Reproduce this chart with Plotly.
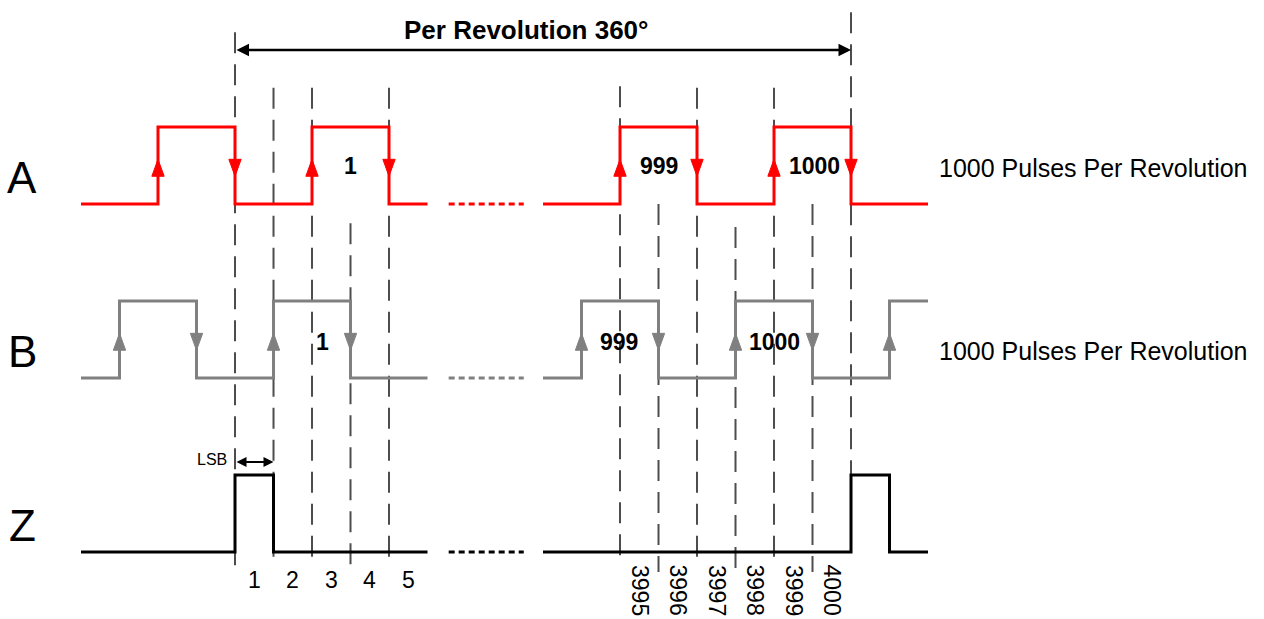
import plotly.graph_objects as go

# ---------------- data (time in quarter-cycle units, levels 0/1) ----------------
RIGHT_OFFSET = 3984          # right-hand section: count value -> display position
BREAK_START, BREAK_END = 5.55, 7.5

A_left_t = [-4, -2, 0, 2, 4, 5]
A_left_v = [0, 1, 0, 1, 0, 0]
A_right_t = [3992, 3994, 3996, 3998, 4000, 4002]
A_right_v = [0, 1, 0, 1, 0, 0]

B_left_t = [-4, -3, -1, 1, 3, 5]
B_left_v = [0, 1, 0, 1, 0, 0]
B_right_t = [3992, 3993, 3995, 3997, 3999, 4001, 4002]
B_right_v = [0, 1, 0, 1, 0, 1, 1]

Z_left_t = [-4, 0, 1, 5]
Z_left_v = [0, 1, 0, 0]
Z_right_t = [3992, 4000, 4001, 4002]
Z_right_v = [0, 1, 0, 0]

row_names = ["A", "B", "Z"]
row_base = [4.52, 2.26, 0.0]      # baseline of each row on the y scale
row_colors = ["#ff0000", "#808080", "#000000"]

A_pulse_labels = ["1", "999", "1000"]
A_pulse_pos = [3, 3995 - RIGHT_OFFSET, 3999.05 - RIGHT_OFFSET]
B_pulse_labels = ["1", "999", "1000"]
B_pulse_pos = [2.26, 3993.97 - RIGHT_OFFSET, 3998 - RIGHT_OFFSET]

count_left_labels = ["1", "2", "3", "4", "5"]
count_left_pos = [0.5, 1.5, 2.5, 3.5, 4.5]
count_right_labels = ["3995", "3996", "3997", "3998", "3999", "4000"]
count_right_pos = [3994.5, 3995.5, 3996.5, 3997.5, 3998.5, 3999.5]

# dashed guide lines: (display t, top y, bottom y)
guide_t = [0, 1, 2, 3, 4, 3994, 3995, 3996, 3997, 3998, 3999, 4000]
guide_top = [6.75, 6.03, 6.03, 4.27, 6.03, 6.05, 4.52, 6.03, 4.22, 6.03, 4.52, 7.01]
guide_bot = [-0.23, -0.2, -0.2, -0.21, -0.2, -0.17, -0.26, -0.2, -0.26, -0.2, -0.26, 1.0]

pulses_text = "1000 Pulses Per Revolution"
title_text = "Per Revolution 360°"

FONT = "Liberation Sans, Arial, sans-serif"

# ---------------- figure ----------------
fig = go.Figure()

def disp(t):
    return t - RIGHT_OFFSET if t > 1000 else t

# dashed guides
for t, top, bot in zip(guide_t, guide_top, guide_bot):
    x = disp(t)
    fig.add_trace(go.Scatter(x=[x, x], y=[top, bot], mode="lines",
                             line=dict(color="#4d4d4d", width=2, dash="21px,11px"),
                             hoverinfo="skip"))

signals = [
    (A_left_t, A_left_v, A_right_t, A_right_v),
    (B_left_t, B_left_v, B_right_t, B_right_v),
    (Z_left_t, Z_left_v, Z_right_t, Z_right_v),
]

for (lt, lv, rt, rv), base, col, name in zip(signals, row_base, row_colors, row_names):
    for ts, vs in ((lt, lv), ([disp(t) for t in rt], rv)):
        fig.add_trace(go.Scatter(x=ts, y=[base + v for v in vs], mode="lines",
                                 line=dict(color=col, width=3, shape="hv"),
                                 hoverinfo="skip"))
        if name != "Z":
            # edge arrows
            w = 0.16
            for i in range(len(vs) - 1):
                if vs[i + 1] != vs[i]:
                    xe = ts[i + 1]
                    if vs[i + 1] > vs[i]:
                        tip, b = base + 0.58, base + 0.36
                    else:
                        tip, b = base + 0.36, base + 0.58
                    fig.add_trace(go.Scatter(x=[xe - w, xe + w, xe, xe - w],
                                             y=[b, b, tip, b], mode="lines",
                                             fill="toself", fillcolor=col,
                                             line=dict(color=col, width=1),
                                             hoverinfo="skip"))
    # dotted break
    fig.add_trace(go.Scatter(x=[BREAK_START, BREAK_END], y=[base, base], mode="lines",
                             line=dict(color=col, width=3, dash="6px,4px"),
                             hoverinfo="skip"))
    fig.add_annotation(x=-5.53, y=base + 0.35, text=name, showarrow=False,
                       font=dict(family=FONT, size=44, color="black"))

# pulse labels
for lab, x in zip(A_pulse_labels, A_pulse_pos):
    fig.add_annotation(x=x, y=row_base[0] + 0.49, text=f"<b>{lab}</b>", showarrow=False,
                       font=dict(family=FONT, size=23, color="black"))
for lab, x in zip(B_pulse_labels, B_pulse_pos):
    fig.add_annotation(x=x, y=row_base[1] + 0.47, text=f"<b>{lab}</b>", showarrow=False,
                       font=dict(family=FONT, size=23, color="black"))

# right-side descriptions
for base, dy in ((row_base[0], 0.47), (row_base[1], 0.35)):
    fig.add_annotation(x=18.23, y=base + dy, text=pulses_text, showarrow=False,
                       xanchor="left", font=dict(family=FONT, size=25, color="black"))

# count labels
for lab, x in zip(count_left_labels, count_left_pos):
    fig.add_annotation(x=x, y=-0.36, text=lab, showarrow=False,
                       font=dict(family=FONT, size=23, color="black"))
for lab, x in zip(count_right_labels, count_right_pos):
    fig.add_annotation(x=disp(x), y=-0.14, text=lab, showarrow=False, textangle=90,
                       yanchor="top", font=dict(family=FONT, size=23, color="black"))

# per revolution arrow
y_rev = 6.52
fig.add_annotation(x=disp(4000), y=y_rev, ax=0, ay=y_rev, axref="x", ayref="y",
                   text="", showarrow=True, arrowside="end+start", arrowhead=2,
                   arrowsize=1, arrowwidth=2.5, arrowcolor="black", standoff=0,
                   startstandoff=0)
fig.add_annotation(x=7.55, y=6.78, text=f"<b>{title_text}</b>", showarrow=False,
                   font=dict(family=FONT, size=26, color="black"))

# LSB arrow
y_lsb = 1.17
fig.add_annotation(x=1, y=y_lsb, ax=0, ay=y_lsb, axref="x", ayref="y",
                   text="", showarrow=True, arrowside="end+start", arrowhead=2,
                   arrowsize=1, arrowwidth=2, arrowcolor="black", standoff=0,
                   startstandoff=0)
fig.add_annotation(x=-0.15, y=y_lsb + 0.03, text="LSB", showarrow=False, xanchor="right",
                   font=dict(family=FONT, size=16, color="black"))

fig.update_layout(
    width=1264, height=619,
    margin=dict(l=0, r=0, t=0, b=0),
    paper_bgcolor="white", plot_bgcolor="white",
    showlegend=False,
    xaxis=dict(range=[-6.104, 26.727], visible=False, fixedrange=True),
    yaxis=dict(range=[-0.870, 7.169], visible=False, fixedrange=True),
)

fig.write_html("out.html", config={"displayModeBar": False},
               post_script="document.body.style.margin='0';document.body.style.overflow='hidden';")
